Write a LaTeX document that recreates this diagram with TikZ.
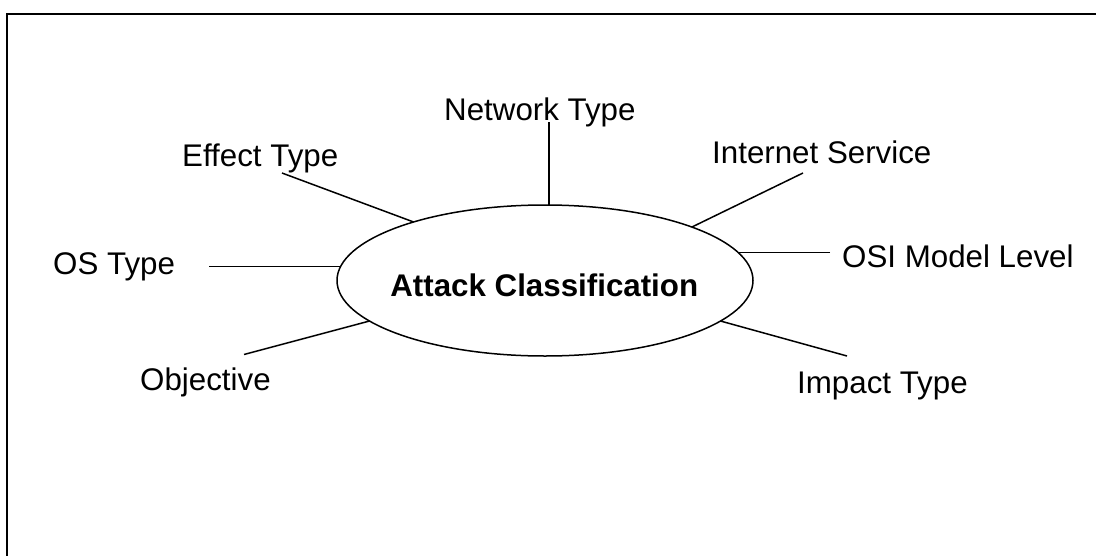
\documentclass[tikz,border=0pt]{standalone}
\usepackage{fontspec}
\setmainfont{Liberation Sans}
\usetikzlibrary{shapes.geometric}
\begin{document}
\begin{tikzpicture}[x=1pt,y=-1pt,
  lbl/.style={anchor=base west, inner sep=0pt, font=\fontsize{31.3}{36}\selectfont},
  spoke/.style={line width=1.5pt},
  hub/.style={ellipse, draw, line width=1.5pt, minimum width=416pt,
              minimum height=151pt, inner sep=0pt, outer sep=0pt}]
\clip (0,0) rectangle (1096,555);
% outer frame (runs off the right and bottom edges)
\draw[line width=2pt] (7,14) rectangle (1110,570);

% central ellipse and its title
\node[hub] (ac) at (545,280.5) {};
\node[anchor=base, inner sep=0pt, font=\fontsize{31.3}{36}\selectfont\bfseries]
  (title) at (544.3,296) {Attack Classification};

% category labels
\node[lbl] (net) at (444,120)   {Network Type};
\node[lbl] (eff) at (182,166)   {Effect Type};
\node[lbl] (int) at (712,163.3) {Internet Service};
\node[lbl] (os)  at (53,274.3)  {OS Type};
\node[lbl] (osi) at (842,267.7) {OSI Model Level};
\node[lbl] (obj) at (140,390.7) {Objective};
\node[lbl] (imp) at (797,393.3) {Impact Type};

% free ends of the spokes
\coordinate (netEnd) at (549,122);
\coordinate (effEnd) at (282,173);
\coordinate (intEnd) at (803,173);
\coordinate (osEnd)  at (209,266.5);
\coordinate (osiEnd) at (830,252.5);
\coordinate (objEnd) at (244,354.5);
\coordinate (impEnd) at (847,356);

% spokes from the ellipse
\draw[spoke] (netEnd) -- (netEnd |- ac.north);
\draw[spoke] (effEnd) -- (ac.156);
\draw[spoke] (intEnd) -- (ac.20);
\draw[spoke] (osEnd)  -- (ac.176 |- osEnd);
\draw[spoke] (osiEnd) -- (ac.8 |- osiEnd);
\draw[spoke] (objEnd) -- (ac.193);
\draw[spoke] (impEnd) -- (ac.347);
\end{tikzpicture}
\end{document}
